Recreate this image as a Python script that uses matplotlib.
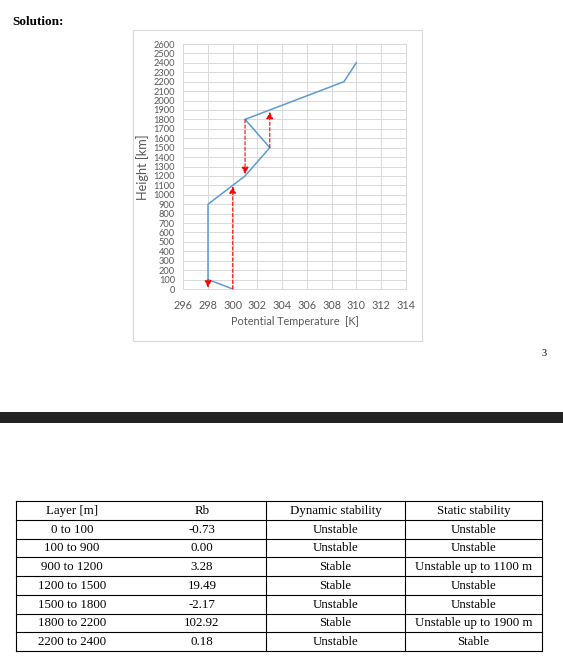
import matplotlib
matplotlib.use("Agg")
import matplotlib.pyplot as plt
from matplotlib.patches import Rectangle

# profile data
theta = [300, 298, 298, 301, 303, 301, 309, 310]
height = [0, 100, 900, 1200, 1500, 1800, 2200, 2400]

# parcel arrows (x, from, to)
arrow_x = [298, 300, 301, 303]
arrow_from = [100, 0, 1800, 1500]
arrow_to = [15, 1090, 1220, 1880]

x_ticks = list(range(296, 315, 2))
y_ticks = list(range(0, 2601, 100))

# table
header = ["Layer [m]", "Rb", "Dynamic stability", "Static stability"]
layers = ["0 to 100", "100 to 900", "900 to 1200", "1200 to 1500",
          "1500 to 1800", "1800 to 2200", "2200 to 2400"]
rb = ["-0.73", "0.00", "3.28", "19.49", "-2.17", "102.92", "0.18"]
dynamic = ["Unstable", "Unstable", "Stable", "Stable", "Unstable", "Stable", "Unstable"]
static = ["Unstable", "Unstable", "Unstable up to 1100 m", "Unstable",
          "Unstable", "Unstable up to 1900 m", "Stable"]

W, H = 563, 661
fig = plt.figure(figsize=(W / 100, H / 100), dpi=100)

# page layer in pixel coords
page = fig.add_axes([0, 0, 1, 1])
page.set_xlim(0, W)
page.set_ylim(H, 0)
page.axis("off")

serif = "Liberation Serif"
page.text(12, 25, "Solution:", fontsize=9.5, fontweight="bold", family=serif,
          va="baseline", ha="left")
page.add_patch(Rectangle((133, 30), 289, 311, fill=False, ec="#d9d9d9", lw=0.8))
page.text(544, 354, "3", fontsize=7.5, family=serif, ha="center", va="center")
page.add_patch(Rectangle((0, 412), W, 11, color="#222222", lw=0))

# table grid
t_left, t_right, t_top = 16, 542, 501
row_h = 18.75
n_rows = len(layers) + 1
for k in range(n_rows + 1):
    y = t_top + k * row_h
    page.plot([t_left, t_right], [y, y], color="black", lw=0.8)
t_bottom = t_top + n_rows * row_h
for x in [t_left, 266, 405, t_right]:
    page.plot([x, x], [t_top, t_bottom], color="black", lw=0.8)

col_x = [72, 202, 335.5, 473.5]
rows = [header] + [list(r) for r in zip(layers, rb, dynamic, static)]
for i, row in enumerate(rows):
    yc = t_top + (i + 0.5) * row_h
    for cx, txt in zip(col_x, row):
        page.text(cx, yc + 3.5, txt, fontsize=9.3, family=serif,
                  ha="center", va="baseline")

# chart
ax = fig.add_axes([183.3 / W, (H - 289) / H, 222.4 / W, 245 / H])
ax.plot(theta, height, color="#5b9bd5", lw=1.1, zorder=3)
for x, y0, y1 in zip(arrow_x, arrow_from, arrow_to):
    ax.annotate("", xy=(x, y1), xytext=(x, y0),
                arrowprops=dict(arrowstyle="-|>,head_length=0.4,head_width=0.2",
                                color="red", lw=0.8, linestyle=(0, (3, 2)),
                                shrinkA=0, shrinkB=0, mutation_scale=10),
                zorder=4)

ax.set_xlim(296, 314)
ax.set_ylim(0, 2600)
ax.set_xticks(x_ticks)
ax.set_yticks(y_ticks)
ax.grid(True, color="#d9d9d9", lw=0.7)
ax.set_axisbelow(True)
for s in ax.spines.values():
    s.set_color("#d9d9d9")
    s.set_linewidth(0.7)
ax.tick_params(length=0, colors="#595959")
ax.tick_params(axis="x", labelsize=7.8, pad=8)
ax.tick_params(axis="y", labelsize=6.7, pad=6)
for lab in ax.get_xticklabels() + ax.get_yticklabels():
    lab.set_family("Lato")

ax.set_xlabel("Potential Temperature  [K]", fontsize=7.8, color="#595959", family="Lato")
ax.set_ylabel("Height [km]", fontsize=9.2, color="#595959", family="Lato")
ax.xaxis.set_label_coords(0.5, -0.11)
ax.yaxis.set_label_coords(-0.155, 0.498)

fig.savefig("out.png", dpi=100)
